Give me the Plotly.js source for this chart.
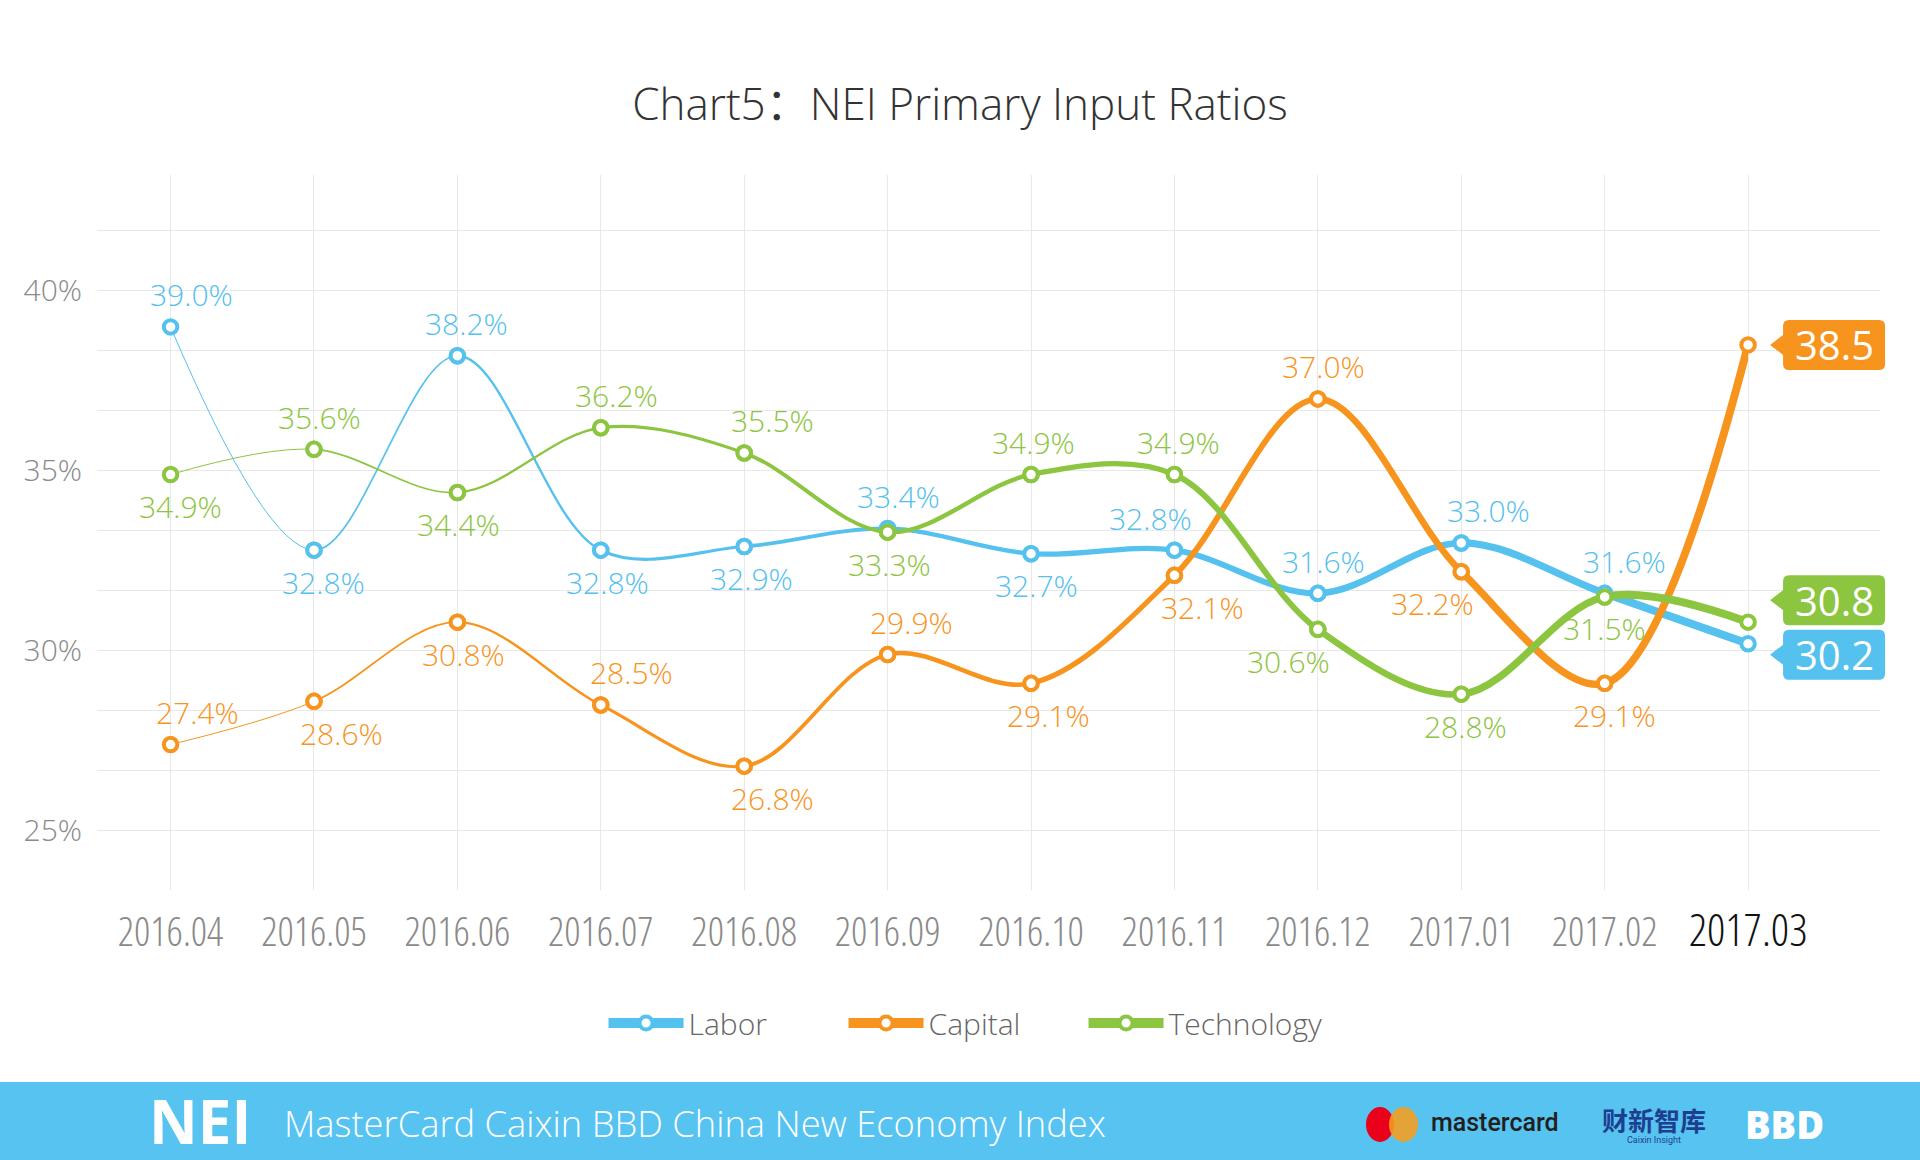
<!DOCTYPE html>
<html>
<head>
<meta charset="utf-8">
<script src="https://cdn.plot.ly/plotly-3.0.1.min.js"></script>
<style>
html, body { margin: 0; padding: 0; background: #fff; }
#chart { width: 1920px; height: 1160px; }
.xtick text { font-stretch: condensed !important; }
</style>
</head>
<body>
<div id="chart"></div>
<script>
// data
var months = ['2016.04', '2016.05', '2016.06', '2016.07', '2016.08', '2016.09',
              '2016.10', '2016.11', '2016.12', '2017.01', '2017.02', '2017.03'];
var labor = [39.0, 32.8, 38.2, 32.8, 32.9, 33.4, 32.7, 32.8, 31.6, 33.0, 31.6, 30.2];
var capital = [27.4, 28.6, 30.8, 28.5, 26.8, 29.9, 29.1, 32.1, 37.0, 32.2, 29.1, 38.5];
var technology = [34.9, 35.6, 34.4, 36.2, 35.5, 33.3, 34.9, 34.9, 30.6, 28.8, 31.5, 30.8];
var seriesNames = ['Labor', 'Capital', 'Technology'];
var yTickVals = [25, 30, 35, 40];
var yTickText = ['25%', '30%', '35%', '40%'];

// look
var series = [labor, capital, technology];
var colors = ['#55c1ee', '#f7941e', '#8cc540'];
// 1 = label above the point, -1 = below
var labelSide = [
  [1, -1, 1, -1, -1, 1, -1, 1, 1, 1, 1],
  [1, -1, -1, 1, -1, 1, -1, -1, 1, -1, -1],
  [-1, 1, -1, 1, 1, -1, 1, 1, -1, -1, -1]
];
var labelDx = [
  [21, 10, 9, 7, 7, 11, 5, -24, 6, 27, 20],
  [27, 28, 6, 31, 28, 24, 17, 28, 6, -29, 10],
  [10, 6, 1, 16, 28, 2, 2, 4, -29, 4, 0]
];
var boxShift = [-11, 0, 22];
var segWidth = [1, 1.7, 2.4, 3.1, 3.8, 4.5, 5.2, 5.9, 6.6, 7.3, 8];

var W = 1920, H = 1160, ML = 97, MR = 40, MT = 175, MB = 270;
var PW = W - ML - MR, PH = H - MT - MB;
var X0 = -0.513, X1 = 11.92, XR = X1 - X0;
function px(x) { return (x - ML) / PW; }
function py(y) { return (H - MB - y) / PH; }

var FONT = "'Open Sans', 'Noto Sans CJK SC', sans-serif";
var last = months.length - 1;

var ticktext = months.map(function (m, i) {
  return i === last ? '<span style="font-size:45px;color:#111111">' + m + '</span>' : m;
});

var layout = {
  width: W, height: H,
  margin: {l: ML, r: MR, t: MT, b: MB},
  paper_bgcolor: '#ffffff',
  plot_bgcolor: 'rgba(0,0,0,0)',
  font: {family: FONT, color: '#666', weight: 300},
  title: {
    text: 'Chart5：NEI Primary Input Ratios',
    font: {family: FONT, size: 44, color: '#333333', weight: 350},
    x: 0.5, xanchor: 'center', y: 1 - 105 / H, yanchor: 'middle'
  },
  xaxis: {
    type: 'category', categoryorder: 'array', categoryarray: months,
    range: [X0, X1], tickmode: 'array', tickvals: months, ticktext: ticktext,
    tickangle: 0, automargin: false,
    showgrid: true, gridcolor: '#e8e8e8', gridwidth: 1,
    zeroline: false, showline: false, ticks: '', ticklabelstandoff: 15,
    tickfont: {size: 40, color: '#8a8a8a', weight: 300}, fixedrange: true
  },
  yaxis: {
    range: [23.36, 43.22], tickmode: 'array', tickvals: yTickVals, ticktext: yTickText,
    showgrid: true, gridcolor: '#e8e8e8', gridwidth: 1,
    minor: {tickmode: 'linear', tick0: 25, dtick: 5 / 3, showgrid: true, gridcolor: '#e8e8e8', gridwidth: 1, ticks: ''},
    zeroline: false, showline: false, ticks: '', ticklabelstandoff: 14,
    tickfont: {size: 30, color: '#8a8a8a', weight: 300}, fixedrange: true
  },
  legend: {
    orientation: 'h', x: 0.486, xanchor: 'center', y: py(1023), yanchor: 'middle',
    font: {size: 30, color: '#666666', weight: 300}, itemwidth: 75,
    entrywidth: 150, entrywidthmode: 'pixels', traceorder: 'normal'
  },
  showlegend: true,
  hovermode: false,
  annotations: [],
  shapes: []
};

var traces = [];

// legend entries
series.forEach(function (s, i) {
  traces.push({
    x: [null], y: [null], name: seriesNames[i], mode: 'lines+markers',
    line: {color: colors[i], width: 10},
    marker: {symbol: 'circle', size: 13, color: '#ffffff', line: {color: colors[i], width: 4}},
    hoverinfo: 'skip'
  });
});

// one clipped subplot per segment so the line can thicken over time
for (var k = 0; k < last; k++) {
  var axId = 'x' + (k + 2);
  layout['xaxis' + (k + 2)] = {
    type: 'category', categoryorder: 'array', categoryarray: months,
    range: [k, k + 1], domain: [(k - X0) / XR, (k + 1 - X0) / XR],
    anchor: 'y', visible: false, showgrid: false, fixedrange: true
  };
  series.forEach(function (s, i) {
    traces.push({
      x: months, y: s, xaxis: axId, yaxis: 'y', mode: 'lines',
      line: {shape: 'spline', smoothing: 1, width: segWidth[k], color: colors[i], simplify: false},
      showlegend: false, hoverinfo: 'skip'
    });
  });
  series.forEach(function (s, i) {
    traces.push({
      x: months.slice(k, k + 2), y: s.slice(k, k + 2), xaxis: axId, yaxis: 'y',
      mode: 'markers', cliponaxis: false,
      marker: {symbol: 'circle', size: 13.5, color: '#ffffff', line: {color: colors[i], width: 4}},
      showlegend: false, hoverinfo: 'skip'
    });
  });
}

// value labels (category axes take the serial index here)
series.forEach(function (s, i) {
  s.forEach(function (v, j) {
    if (j === last) return;
    layout.annotations.push({
      x: j, y: v, xref: 'x', yref: 'y', showarrow: false,
      text: v.toFixed(1) + '%', xshift: labelDx[i][j], yshift: labelSide[i][j] * 32,
      font: {size: 30, color: colors[i], weight: 300}
    });
  });
});

// end-of-line value boxes
var anchorX = (last - X0) / XR;
function boxPath(dy) {
  var t = 22, a = 35, b = 137, h = 25, r = 6;
  return 'M ' + t + ' ' + dy +
    ' L ' + a + ' ' + (dy + 10) +
    ' L ' + a + ' ' + (dy + h - r) +
    ' Q ' + a + ' ' + (dy + h) + ' ' + (a + r) + ' ' + (dy + h) +
    ' L ' + (b - r) + ' ' + (dy + h) +
    ' Q ' + b + ' ' + (dy + h) + ' ' + b + ' ' + (dy + h - r) +
    ' L ' + b + ' ' + (dy - h + r) +
    ' Q ' + b + ' ' + (dy - h) + ' ' + (b - r) + ' ' + (dy - h) +
    ' L ' + (a + r) + ' ' + (dy - h) +
    ' Q ' + a + ' ' + (dy - h) + ' ' + a + ' ' + (dy - h + r) +
    ' L ' + a + ' ' + (dy - 10) + ' Z';
}
series.forEach(function (s, i) {
  var v = s[last];
  layout.shapes.push({
    type: 'path', xref: 'paper', yref: 'y', xsizemode: 'pixel', ysizemode: 'pixel',
    xanchor: anchorX, yanchor: v, path: boxPath(boxShift[i]),
    fillcolor: colors[i], line: {width: 0}, layer: 'above'
  });
  layout.annotations.push({
    x: last, y: v, xref: 'x', yref: 'y', showarrow: false,
    text: v.toFixed(1), xshift: 86, yshift: boxShift[i],
    font: {size: 40, color: '#ffffff', weight: 400}
  });
});

// footer band
layout.shapes.push({
  type: 'rect', xref: 'paper', yref: 'paper', x0: px(0), x1: px(W), y0: py(H), y1: py(1082),
  fillcolor: '#57c3f1', line: {width: 0}, layer: 'above'
});
layout.shapes.push({
  type: 'circle', xref: 'paper', yref: 'paper', x0: px(1366), x1: px(1394), y0: py(1142), y1: py(1107),
  fillcolor: '#eb001b', line: {width: 0}, layer: 'above'
});
layout.shapes.push({
  type: 'circle', xref: 'paper', yref: 'paper', x0: px(1389), x1: px(1418), y0: py(1142), y1: py(1107),
  fillcolor: '#f79e1b', opacity: 0.88, line: {width: 0}, layer: 'above'
});
function foot(text, x, y, size, color, anchor, weight, family) {
  layout.annotations.push({
    xref: 'paper', yref: 'paper', x: px(x), y: py(y), xanchor: anchor, yanchor: 'middle',
    showarrow: false, text: text,
    font: {size: size, color: color, weight: weight || 400, family: family || FONT}
  });
}
foot('NEI', 200, 1121, 60, '#ffffff', 'center', 700);
foot('MasterCard Caixin BBD China New Economy Index', 282, 1123, 36.3, '#ffffff', 'left', 300);
foot('mastercard', 1429, 1122, 25, '#231f20', 'left', 500, 'Roboto, sans-serif');
foot('财新智库', 1654, 1119, 26, '#1e3f8f', 'center', 700, "'Noto Sans CJK SC', sans-serif");
foot('Caixin Insight', 1654, 1140, 9, '#1e3f8f', 'center', 400, 'Roboto, sans-serif');
foot('BBD', 1784, 1124, 38, '#ffffff', 'center', 800);

Plotly.newPlot('chart', traces, layout, {displayModeBar: false, staticPlot: true});
</script>
</body>
</html>
